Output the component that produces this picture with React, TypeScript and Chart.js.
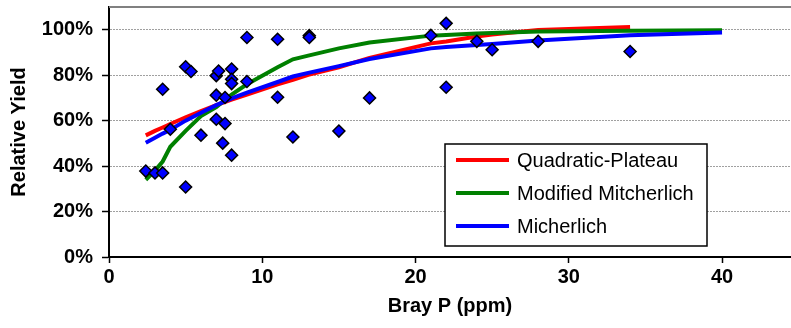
import { useEffect, useRef } from "react";
import { Chart, registerables } from "chart.js";

Chart.register(...registerables);

// Observed plots: Bray P soil test (ppm) vs relative yield (%)
const obsBrayP = [
  2.4, 3.0, 3.5, 5.0, 3.5, 4.0, 5.0, 5.35, 6.0, 7.0, 7.15, 8.0, 8.0, 8.0, 9.0, 9.0,
  7.0, 7.57, 7.0, 7.57, 7.42, 8.0, 11.0, 11.0, 12.0, 13.07, 13.07, 15.0, 17.0, 21.0,
  22.0, 22.0, 24.0, 25.0, 28.0, 34.0,
];
const obsYield = [
  37.8, 37.0, 37.0, 30.8, 73.8, 56.2, 83.7, 81.6, 53.6, 79.8, 81.8, 82.7, 78.2, 76.3, 77.2, 96.6,
  71.2, 70.2, 60.6, 58.7, 50.1, 44.8, 95.8, 70.3, 52.8, 97.4, 96.6, 55.4, 70.0, 97.5,
  102.8, 74.7, 94.9, 91.2, 94.9, 90.4,
];

// Fitted response curves, evaluated at the soil-test levels
const fitX = [2.4, 3, 3.5, 4, 5, 6, 7, 8, 9, 11, 12, 13, 15, 17, 21, 22, 24, 25, 28, 34, 40];
const quadPlateau = [
  53.5, 55.5, 57, 58.5, 61.5, 64.2, 66.8, 69.2, 71.5, 76, 78, 80.2, 83.5, 87.6, 94, 94.8, 97,
  97.9, 99.9, 101.2,
];
const modMitcherlich = [
  34, 38, 42, 48.5, 55.5, 62, 66, 71.5, 76, 83.5, 87, 88.6, 91.8, 94.4, 97.4, 97.7, 98.3, 98.6,
  99.2, 99.6, 99.8,
];
const mitcherlich = [
  50.3, 52.5, 54.3, 56, 60, 63.5, 66.8, 69.8, 72.3, 77, 79.4, 81, 84, 87.1, 91.8, 92.4, 93.3,
  93.7, 95.3, 97.6, 98.8,
];

const seriesLabels = ["Quadratic-Plateau", "Modified Mitcherlich", "Micherlich"];
const seriesColors = ["#ff0000", "#008000", "#0000ff"];

const xMax = 44.5;
const yMax = 110;

const toPoints = (xs: number[], ys: number[]) => ys.map((y, i) => ({ x: xs[i], y }));

const clearScalePadding = (s: any) => {
  s.paddingTop = 0;
  s.paddingBottom = 0;
  s.paddingLeft = 0;
  s.paddingRight = 0;
};

const frameAndLegend = {
  id: "frameAndLegend",
  afterDatasetsDraw(chart: any) {
    const { ctx, chartArea } = chart;
    ctx.save();
    // plot-area top edge
    ctx.strokeStyle = "#808080";
    ctx.lineWidth = 2;
    ctx.beginPath();
    ctx.moveTo(chartArea.left, chartArea.top);
    ctx.lineTo(chartArea.right, chartArea.top);
    ctx.stroke();

    // legend box
    const bx = 445, by = 144, bw = 262, bh = 102;
    ctx.fillStyle = "#ffffff";
    ctx.fillRect(bx, by, bw, bh);
    ctx.strokeStyle = "#000000";
    ctx.lineWidth = 1.5;
    ctx.strokeRect(bx, by, bw, bh);
    const rows = [160, 193, 226];
    ctx.font = "20px 'Liberation Sans', Arial, sans-serif";
    ctx.textBaseline = "middle";
    ctx.textAlign = "left";
    seriesLabels.forEach((label, i) => {
      ctx.strokeStyle = seriesColors[i];
      ctx.lineWidth = 4;
      ctx.beginPath();
      ctx.moveTo(456, rows[i]);
      ctx.lineTo(509, rows[i]);
      ctx.stroke();
      ctx.fillStyle = "#000000";
      ctx.fillText(label, 517, rows[i] + 1);
    });
    ctx.restore();
  },
};

export default function App() {
  const canvasRef = useRef<HTMLCanvasElement | null>(null);

  useEffect(() => {
    if (!canvasRef.current) return;
    const boldFont = { family: "'Liberation Sans', Arial, sans-serif", size: 20, weight: "bold" as const };

    const chart = new Chart(canvasRef.current, {
      type: "scatter",
      data: {
        datasets: [
          {
            label: "Observed",
            data: toPoints(obsBrayP, obsYield),
            pointStyle: "rectRot",
            pointRadius: 6,
            pointBackgroundColor: "#0000ff",
            pointBorderColor: "#000000",
            pointBorderWidth: 1.5,
            showLine: false,
            order: 0,
          },
          {
            label: seriesLabels[0],
            data: toPoints(fitX, quadPlateau),
            showLine: true,
            borderColor: seriesColors[0],
            borderWidth: 4,
            pointRadius: 0,
            order: 3,
          },
          {
            label: seriesLabels[1],
            data: toPoints(fitX, modMitcherlich),
            showLine: true,
            borderColor: seriesColors[1],
            borderWidth: 4,
            pointRadius: 0,
            order: 2,
          },
          {
            label: seriesLabels[2],
            data: toPoints(fitX, mitcherlich),
            showLine: true,
            borderColor: seriesColors[2],
            borderWidth: 4,
            pointRadius: 0,
            order: 1,
          },
        ],
      },
      options: {
        animation: false,
        responsive: false,
        events: [],
        layout: { autoPadding: false, padding: { top: 7, left: 0, right: 0, bottom: 0 } },
        plugins: {
          legend: { display: false },
          tooltip: { enabled: false },
          title: { display: false },
        },
        scales: {
          x: {
            type: "linear",
            min: 0,
            max: xMax,
            afterFit: (s: any) => {
              s.height = 71;
              clearScalePadding(s);
            },
            ticks: {
              stepSize: 10,
              includeBounds: false,
              color: "#000000",
              font: boldFont,
              padding: 2,
              maxRotation: 0,
            },
            grid: {
              drawOnChartArea: false,
              drawTicks: true,
              tickLength: 6,
              tickColor: "#000000",
              tickWidth: 1.5,
            },
            border: { display: true, color: "#000000", width: 2 },
            title: {
              display: true,
              text: "Bray P (ppm)",
              color: "#000000",
              font: boldFont,
              padding: { top: 0, bottom: 10 },
            },
          },
          y: {
            type: "linear",
            min: 0,
            max: yMax,
            afterFit: (s: any) => {
              s.width = 109;
              clearScalePadding(s);
            },
            ticks: {
              stepSize: 20,
              includeBounds: false,
              color: "#000000",
              font: boldFont,
              padding: 9,
              callback: (v: any) => `${v}%`,
            },
            grid: {
              color: (c: any) => (c.tick && c.tick.value === 0 ? "rgba(0,0,0,0)" : "#a0a0a0"),
              lineWidth: 1,
              drawTicks: true,
              tickLength: 7,
              tickColor: "#000000",
              tickWidth: 1.5,
              tickBorderDash: [],
            },
            border: { display: true, color: "#000000", width: 2, dash: [2, 1] },
            title: {
              display: true,
              text: "Relative Yield",
              color: "#000000",
              font: boldFont,
              padding: { top: 7, bottom: 4 },
            },
          },
        },
      },
      plugins: [frameAndLegend],
    });

    return () => chart.destroy();
  }, []);

  return (
    <div style={{ position: "absolute", left: 0, top: 0, width: 791, height: 328, background: "#ffffff" }}>
      <canvas ref={canvasRef} width={791} height={328} />
    </div>
  );
}
